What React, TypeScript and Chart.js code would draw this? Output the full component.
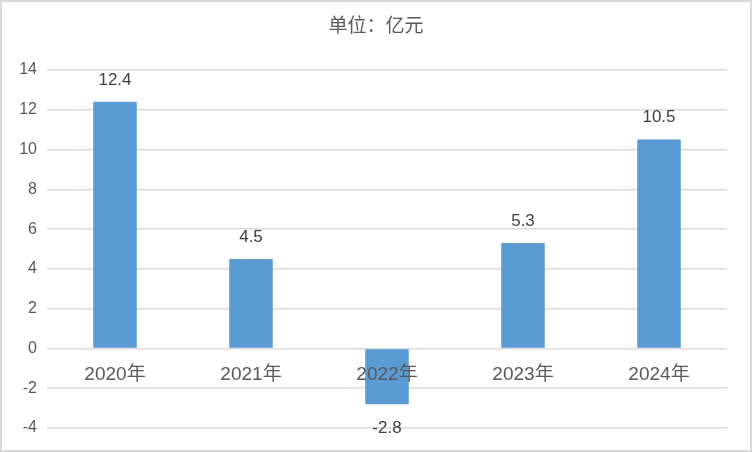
import { Chart, registerables } from "chart.js";
import { useEffect, useRef } from "react";

Chart.register(...registerables);

const categories = ["2020年", "2021年", "2022年", "2023年", "2024年"];
const values = [12.4, 4.5, -2.8, 5.3, 10.5];
const yMin = -4;
const yMax = 14;
const yStep = 2;
const titleText = "单位：亿元";

const FONT = "'Liberation Sans', 'Noto Sans CJK SC', sans-serif";

const labelsPlugin = {
    id: "customLabels",
    afterDatasetsDraw(chart: any) {
        const ctx = chart.ctx;
        const x = chart.scales.x;
        const y = chart.scales.y;
        const zero = y.getPixelForValue(0);
        ctx.save();
        // title
        ctx.font = `19px ${FONT}`;
        ctx.fillStyle = "#595959";
        ctx.textAlign = "center";
        ctx.textBaseline = "middle";
        ctx.fillText(titleText, chart.width / 2, 25);
        // category labels along the zero line
        categories.forEach((c, i) => {
            ctx.font = `19px ${FONT}`;
            ctx.fillStyle = "#595959";
            ctx.fillText(c, x.getPixelForValue(i), zero + 26);
        });
        // value labels
        const meta = chart.getDatasetMeta(0);
        meta.data.forEach((bar: any, i: number) => {
            const v = values[i];
            ctx.font = `17px ${FONT}`;
            ctx.fillStyle = "#404040";
            const ly = v >= 0 ? bar.y - 22 : bar.y + 24;
            ctx.fillText(String(v), bar.x, ly);
        });
        ctx.restore();
    },
};

const App: React.FC = () => {
    const chartRef = useRef<HTMLCanvasElement>(null);

    useEffect(() => {
        document.body.style.margin = "0";
        if (!chartRef.current) return;
        const ctx = chartRef.current.getContext("2d");
        if (!ctx) return;
        const chart = new Chart(ctx, {
            type: "bar",
            data: {
                labels: categories,
                datasets: [
                    {
                        data: values,
                        backgroundColor: "#5b9bd5",
                        categoryPercentage: 1,
                        barPercentage: 0.32,
                    },
                ],
            },
            options: {
                animation: false,
                responsive: true,
                maintainAspectRatio: false,
                layout: { padding: { top: 68, right: 23, bottom: 22, left: 0 } },
                plugins: {
                    legend: { display: false },
                    tooltip: { enabled: false },
                    title: { display: false },
                },
                scales: {
                    x: {
                        display: false,
                    },
                    y: {
                        min: yMin,
                        max: yMax,
                        afterFit: (s: any) => {
                            s.width = 45;
                        },
                        ticks: {
                            stepSize: yStep,
                            padding: 10,
                            color: "#595959",
                            font: { size: 16, family: FONT },
                        },
                        grid: {
                            color: "#d9d9d9",
                            lineWidth: 1.5,
                            drawTicks: false,
                        },
                        border: { display: false },
                    },
                },
            },
            plugins: [labelsPlugin],
        });
        return () => {
            chart.destroy();
        };
    }, []);

    return (
        <div
            style={{
                width: 752,
                height: 452,
                boxSizing: "border-box",
                border: "2px solid #d9d9d9",
                background: "#fff",
            }}
        >
            <div style={{ position: "relative", width: 748, height: 448 }}>
                <canvas ref={chartRef}></canvas>
            </div>
        </div>
    );
};

export default App;
